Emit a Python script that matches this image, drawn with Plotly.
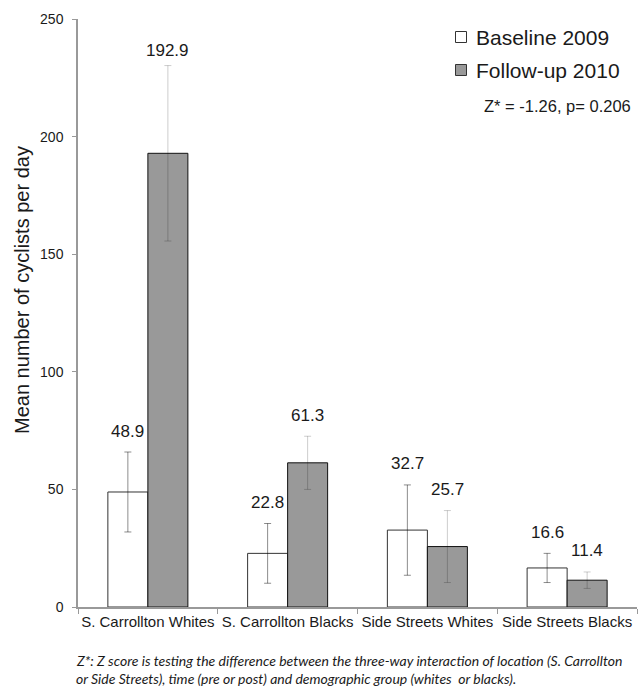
import plotly.graph_objects as go

categories = ["S. Carrollton Whites", "S. Carrollton Blacks", "Side Streets Whites", "Side Streets Blacks"]
baseline_2009 = [48.9, 22.8, 32.7, 16.6]
baseline_err = [17.0, 12.7, 19.2, 6.2]
followup_2010 = [192.9, 61.3, 25.7, 11.4]
followup_err = [37.3, 11.3, 15.3, 3.5]
y_ticks = [0, 50, 100, 150, 200, 250]
legend_labels = ["Baseline 2009", "Follow-up 2010"]
stat_text = "Z* = -1.26, p= 0.206"
footnote_lines = [
    "Z*: Z score is testing the difference between the three-way interaction of location (S. Carrollton",
    "or Side Streets), time (pre or post) and demographic group (whites  or blacks).",
]

W, H = 641, 688
ML, MR, MT, MB = 78, 4, 19, 81
plot_w = W - ML - MR
plot_h = H - MT - MB
bargap = 0.4275
cat_px = plot_w / len(categories)
bar_px = cat_px * (1 - bargap) / 2

BASE_FILL = "#ffffff"
FOLLOW_FILL = "#999999"
FONT = "Liberation Sans, Arial, sans-serif"

fig = go.Figure()
fig.add_trace(go.Bar(
    x=categories, y=baseline_2009, name=legend_labels[0],
    marker=dict(color=BASE_FILL, line=dict(color="#333333", width=1)),
    error_y=dict(type="data", array=baseline_err, visible=True,
                 color="rgba(0,0,0,0.45)", thickness=1, width=3.5),
    showlegend=False,
))
fig.add_trace(go.Bar(
    x=categories, y=followup_2010, name=legend_labels[1],
    marker=dict(color=FOLLOW_FILL, line=dict(color="#111111", width=1)),
    error_y=dict(type="data", array=followup_err, visible=True,
                 color="rgba(0,0,0,0.2)", thickness=1, width=3.5),
    showlegend=False,
))

annotations = []
for series, errs, shift in [(baseline_2009, baseline_err, -bar_px / 2), (followup_2010, followup_err, bar_px / 2)]:
    for cat, v, e in zip(categories, series, errs):
        top = v + e
        ys = 21 if top < 220 else 15
        annotations.append(dict(
            x=cat, y=top, xref="x", yref="y", text=f"{v:.1f}", showarrow=False,
            xshift=shift, yshift=ys, yanchor="middle",
            font=dict(family=FONT, size=17, color="#1a1a1a"),
        ))

def px_to_paper_x(px):
    return (px - ML) / plot_w

def px_to_paper_y(py):
    return (H - MB - py) / plot_h

# y axis title
annotations.append(dict(
    x=px_to_paper_x(22), y=px_to_paper_y(290), xref="paper", yref="paper",
    text="Mean number of cyclists per day", textangle=-90, showarrow=False,
    font=dict(family=FONT, size=20, color="#1a1a1a"), xanchor="center", yanchor="middle",
))

# legend text
shapes = []
legend_rows = [(legend_labels[0], BASE_FILL, 37), (legend_labels[1], FOLLOW_FILL, 70)]
for label, fill, cy in legend_rows:
    shapes.append(dict(
        type="rect", xref="paper", yref="paper",
        x0=px_to_paper_x(455.5), x1=px_to_paper_x(466.5),
        y0=px_to_paper_y(cy + 5.5), y1=px_to_paper_y(cy - 5.5),
        line=dict(color="#333333", width=1), fillcolor=fill,
    ))
    annotations.append(dict(
        x=px_to_paper_x(474), y=px_to_paper_y(cy), xref="paper", yref="paper",
        text=label, showarrow=False, xanchor="left", yanchor="middle",
        font=dict(family=FONT, size=21, color="#1a1a1a"),
    ))
annotations.append(dict(
    x=px_to_paper_x(633), y=px_to_paper_y(106), xref="paper", yref="paper",
    text=stat_text, showarrow=False, xanchor="right", yanchor="middle",
    font=dict(family=FONT, size=16.5, color="#1a1a1a"),
))

for i, line in enumerate(footnote_lines):
    annotations.append(dict(
        x=px_to_paper_x(74), y=px_to_paper_y(660 + 18 * i), xref="paper", yref="paper",
        text=f"<i>{line}</i>", showarrow=False, xanchor="left", yanchor="middle",
        font=dict(family="Lato, Open Sans, sans-serif", size=14, color="#1a1a1a"),
    ))

fig.update_layout(
    width=W, height=H,
    margin=dict(l=ML, r=MR, t=MT, b=MB, pad=0, autoexpand=False),
    paper_bgcolor="white", plot_bgcolor="white",
    barmode="group", bargap=bargap, bargroupgap=0,
    annotations=annotations, shapes=shapes,
    font=dict(family=FONT, color="#1a1a1a"),
)
fig.update_xaxes(
    type="category", range=[-0.5, len(categories) - 0.5],
    showline=True, linecolor="#999999", linewidth=1.5,
    ticks="outside", tickson="boundaries", ticklen=5, tickcolor="#999999", tickwidth=1,
    tickfont=dict(family=FONT, size=15, color="#1a1a1a"), tickangle=0,
    showgrid=False, zeroline=False, automargin=False,
)
fig.update_yaxes(
    range=[0, 250], tickvals=y_ticks, ticktext=[str(t) for t in y_ticks],
    showline=True, linecolor="#999999", linewidth=1.5,
    ticks="outside", ticklen=4, tickcolor="#999999", tickwidth=1,
    tickfont=dict(family=FONT, size=14, color="#1a1a1a"),
    ticklabelstandoff=6,
    showgrid=False, zeroline=False, automargin=False,
)

fig.write_html(
    "out.html",
    config={"displayModeBar": False},
    post_script="document.body.style.margin='0';document.body.style.overflow='hidden';",
)
